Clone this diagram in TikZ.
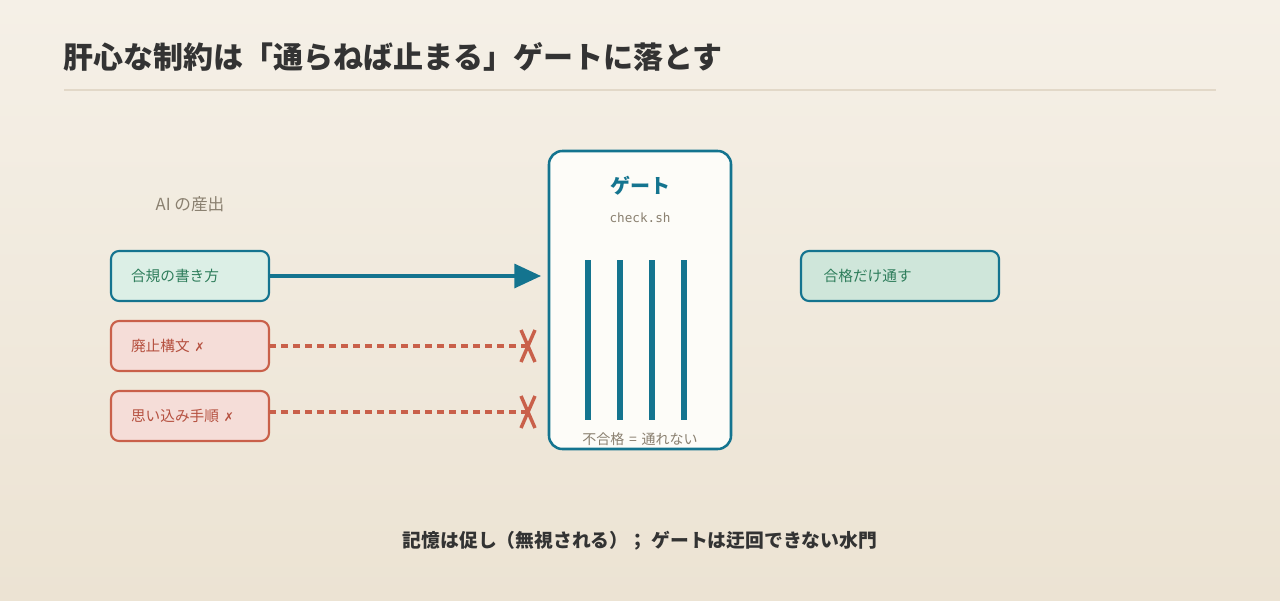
\documentclass[tikz,border=0pt]{standalone}
\usepackage{fontspec}
\setmainfont{Noto Sans CJK JP}
\newfontfamily\symf{DejaVu Sans}
\newfontfamily\monof{DejaVu Sans Mono}
\usetikzlibrary{arrows.meta}
\definecolor{bgtop}{HTML}{F5F0E7}
\definecolor{bgbot}{HTML}{ECE3D3}
\definecolor{titlec}{HTML}{333333}
\definecolor{rulec}{HTML}{E2D8C8}
\definecolor{teal}{HTML}{14748F}
\definecolor{goodfill}{HTML}{DCEFE6}
\definecolor{passfill}{HTML}{CFE6DA}
\definecolor{goodtext}{HTML}{2E7D5B}
\definecolor{badfill}{HTML}{F5DDD8}
\definecolor{baddraw}{HTML}{C9604A}
\definecolor{badtext}{HTML}{B5503F}
\definecolor{grayt}{HTML}{8A8070}
\definecolor{gatefill}{HTML}{FDFCF8}
\tikzset{
  inbox/.style={draw=teal, line width=1.6pt, rounded corners=6pt, minimum width=118.5pt, minimum height=37.5pt, text width=88.5pt, align=left, inner sep=0pt, outer sep=0pt, font=\fontsize{11}{13}\selectfont},
  goodbox/.style={inbox, fill=goodfill, text=goodtext},
  badbox/.style={inbox, draw=baddraw, fill=badfill, text=badtext},
  bar/.style={line width=4.5pt, teal},
  xmark/.style={draw=baddraw, line width=2.6pt},
  dashline/.style={draw=baddraw, line width=2.4pt, dash pattern=on 5.25pt off 3.75pt},
}
\begin{document}
\begin{tikzpicture}[x=0.75pt,y=-0.75pt]
\useasboundingbox (0,0) rectangle (1280,600);
\shade[top color=bgtop, bottom color=bgbot] (0,0) rectangle (1280,600);
% title
\node[anchor=west, inner sep=0pt, text=titlec, font=\fontsize{22.5}{26}\selectfont\bfseries] (title) at (63.5,57) {肝心な制約は「通らねば止まる」ゲートに落とす};
\draw[rulec, line width=1.5pt] (64,90) -- (1216,90);
% left label
\node[text=grayt, font=\fontsize{12.5}{14}\selectfont] (ailabel) at (190,204) {AI の産出};
% input boxes
\node[goodbox, anchor=north west] (good) at (111,251) {合規の書き方};
\node[badbox, anchor=north west] (bad1) at (111,321) {廃止構文 {\symf\fontsize{9}{11}\selectfont ✗}};
\node[badbox, anchor=north west] (bad2) at (111,391) {思い込み手順 {\symf\fontsize{9}{11}\selectfont ✗}};
% gate
\node[draw=teal, line width=1.9pt, fill=gatefill, rounded corners=10pt, minimum width=136.5pt, minimum height=223.5pt, anchor=north west, inner sep=0pt, outer sep=0pt] (gate) at (549,151) {};
\node[text=teal, font=\fontsize{15}{17}\selectfont\bfseries] (gtitle) at (640,186) {ゲート};
\node[text=grayt, font=\fontsize{9.5}{11}\selectfont\monof] (gsub) at (640,218) {check.sh};
\foreach \i/\xx in {1/588,2/620,3/652,4/684}{
  \coordinate (bt\i) at (\xx,260);
  \coordinate (bb\i) at (\xx,420);
  \draw[bar] (bt\i) -- (bb\i);
}
\node[text=grayt, font=\fontsize{10.5}{12}\selectfont] (gfoot) at (640,439) {不合格\,\,=\,\,通れない};
% output box
\node[inbox, fill=passfill, text=goodtext, anchor=north west, minimum width=148.5pt, text width=114.5pt] (pass) at (801,251) {合格だけ通す};
% connectors
\coordinate (tip) at (541,276);
\draw[teal, line width=2.4pt, -{Triangle[length=20pt,width=18pt]}] (good.east) -- (tip |- good.east);
\coordinate (x1) at (528,346);
\coordinate (x2) at (528,412);
\draw[dashline] (bad1.east) -- (x1 |- bad1.east);
\draw[dashline] (bad2.east |- x2) -- (x2);
\foreach \c in {x1,x2}{
  \draw[xmark] ([shift={(-7,-16)}]\c) -- ([shift={(7,16)}]\c);
  \draw[xmark] ([shift={(7,-16)}]\c) -- ([shift={(-7,16)}]\c);
}
% bottom caption
\node[text=titlec, font=\fontsize{14.1}{17}\selectfont\bfseries] (caption) at (640,541) {記憶は促し（無視される）； ゲートは迂回できない水門};
\end{tikzpicture}
\end{document}
